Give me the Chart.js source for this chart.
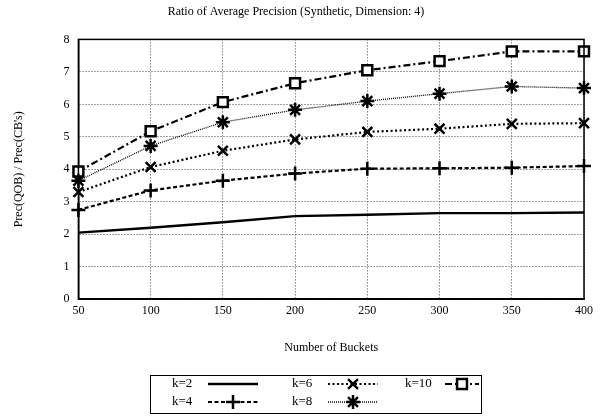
<!DOCTYPE html>
<html>
<head>
<meta charset="utf-8">
<script src="https://cdn.jsdelivr.net/npm/chart.js@4/dist/chart.umd.min.js"></script>
<style>
  html, body { margin: 0; padding: 0; background: #fff; }
  #wrap { width: 610px; height: 417px; }
</style>
</head>
<body>
<div id="wrap"><canvas id="chart"></canvas></div>
<script>
// dati
const buckets = [50, 100, 150, 200, 250, 300, 350, 400];
const k2  = [2.05, 2.20, 2.37, 2.56, 2.60, 2.65, 2.65, 2.67];
const k4  = [2.75, 3.35, 3.65, 3.87, 4.02, 4.03, 4.05, 4.10];
const k6  = [3.30, 4.07, 4.57, 4.92, 5.15, 5.25, 5.40, 5.42];
const k8  = [3.65, 4.72, 5.45, 5.83, 6.10, 6.33, 6.55, 6.50];
const k10 = [3.93, 5.17, 6.07, 6.65, 7.05, 7.33, 7.63, 7.63];
const yTicks = [0, 1, 2, 3, 4, 5, 6, 7, 8];

const FONT = "'Liberation Serif', 'DejaVu Serif', serif";

const toPoints = arr => arr.map((v, i) => ({ x: buckets[i], y: v }));

const series = [
    { label: 'k=2',  data: k2,  dash: [],           width: 2.3, point: false,      radius: 0 },
    { label: 'k=4',  data: k4,  dash: [4, 2.5],     width: 2.2, point: 'cross',    radius: 7 },
    { label: 'k=6',  data: k6,  dash: [2, 2.5],     width: 2.2, point: 'crossRot', radius: 7 },
    { label: 'k=8',  data: k8,  dash: [1, 1],       width: 1.3, point: 'star',     radius: 7 },
    { label: 'k=10', data: k10, dash: [7, 3, 2, 3], width: 2.2, point: 'rect',     radius: 7 }
];

// riquadro completo attorno all'area del grafico
const frame = {
    id: 'frame',
    afterDatasetsDraw(chart) {
        const { ctx, chartArea: a } = chart;
        ctx.save();
        ctx.strokeStyle = '#000';
        ctx.lineWidth = 1.5;
        ctx.strokeRect(a.left, a.top, a.right - a.left, a.bottom - a.top);
        ctx.restore();
    }
};

// legenda in stile gnuplot, dentro un box sotto il grafico
const boxLegend = {
    id: 'boxLegend',
    afterDraw(chart) {
        const ctx = chart.ctx;
        const box = { x: 150, y: 375, w: 331, h: 38 };
        const cols = [172, 292, 405];
        const rows = [384, 402];
        const lineOff = 36, lineLen = 50;
        ctx.save();
        ctx.strokeStyle = '#000';
        ctx.lineWidth = 1;
        ctx.strokeRect(box.x + 0.5, box.y + 0.5, box.w, box.h);
        ctx.font = '13px ' + FONT;
        ctx.textBaseline = 'middle';
        ctx.fillStyle = '#000';
        chart.data.datasets.forEach((ds, i) => {
            const col = Math.floor(i / 2), row = i % 2;
            const x = cols[col], y = rows[row];
            ctx.fillText(ds.label, x, y);
            const x0 = x + (col === 2 ? 40 : lineOff);
            const x1 = Math.min(x0 + lineLen, box.x + box.w - 2);
            ctx.save();
            ctx.lineWidth = ds.borderWidth;
            ctx.setLineDash(ds.borderDash);
            ctx.beginPath();
            ctx.moveTo(x0, y);
            ctx.lineTo(x1, y);
            ctx.stroke();
            ctx.restore();
            if (ds.pointStyle) {
                const cx = (x0 + x1) / 2;
                ctx.save();
                ctx.fillStyle = '#fff';
                ctx.strokeStyle = '#000';
                ctx.lineWidth = 2.5;
                ctx.setLineDash([]);
                Chart.helpers.drawPoint(ctx, {
                    pointStyle: ds.pointStyle,
                    radius: ds.pointRadius,
                    borderWidth: 2.5,
                    rotation: 0
                }, cx, y);
                ctx.restore();
            }
        });
        ctx.restore();
    }
};

new Chart(document.getElementById('chart'), {
    type: 'line',
    data: {
        datasets: series.map(s => ({
            label: s.label,
            data: toPoints(s.data),
            borderColor: '#000',
            backgroundColor: '#fff',
            borderWidth: s.width,
            borderDash: s.dash,
            pointStyle: s.point,
            pointRadius: s.radius,
            pointHoverRadius: s.radius,
            pointBorderColor: '#000',
            pointBackgroundColor: '#fff',
            pointBorderWidth: 2.5,
            tension: 0,
            fill: false,
            clip: false
        }))
    },
    options: {
        responsive: true,
        maintainAspectRatio: false,
        animation: false,
        layout: { padding: { left: 8, right: 26, top: 0, bottom: 58 } },
        plugins: {
            legend: { display: false },
            tooltip: { enabled: false },
            title: {
                display: true,
                text: 'Ratio of Average Precision (Synthetic, Dimension: 4)',
                color: '#000',
                font: { family: FONT, size: 12, weight: 'normal' },
                padding: { top: 5, bottom: 20 }
            }
        },
        scales: {
            x: {
                type: 'linear',
                min: 50,
                max: 400,
                ticks: {
                    stepSize: 50,
                    color: '#000',
                    font: { family: FONT, size: 12 },
                    padding: 4
                },
                grid: { color: '#444', lineWidth: 1, drawTicks: false },
                border: { display: true, color: '#000', width: 1.5, dash: [1, 2] },
                title: {
                    display: true,
                    text: 'Number of Buckets',
                    color: '#000',
                    font: { family: FONT, size: 12 },
                    padding: { top: 19 }
                }
            },
            y: {
                type: 'linear',
                min: 0,
                max: 8,
                afterBuildTicks: axis => { axis.ticks = yTicks.map(v => ({ value: v })); },
                ticks: {
                    color: '#000',
                    font: { family: FONT, size: 12 },
                    padding: 9
                },
                grid: { color: '#444', lineWidth: 1, drawTicks: false },
                border: { display: true, color: '#000', width: 1.5, dash: [1, 2] },
                title: {
                    display: true,
                    text: "Prec(QOB) / Prec(CB's)",
                    color: '#000',
                    font: { family: FONT, size: 12 },
                    padding: { bottom: 28 }
                }
            }
        }
    },
    plugins: [frame, boxLegend]
});
</script>
</body>
</html>
